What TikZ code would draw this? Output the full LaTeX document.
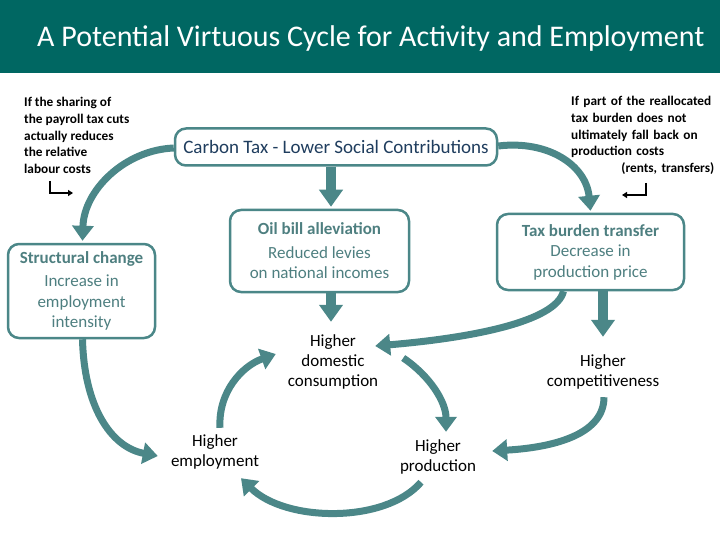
\documentclass[tikz,border=0pt]{standalone}
\usepackage{fontspec}
\setmainfont{Carlito}
\usetikzlibrary{arrows.meta}
\definecolor{hdr}{HTML}{006762}
\definecolor{tl}{HTML}{4B8788}
\definecolor{boxtxt}{HTML}{4E7F80}
\definecolor{navy}{HTML}{1F3D5E}
\begin{document}
\begin{tikzpicture}[x=1pt,y=-1pt,
  box/.style={draw=tl, line width=2.5pt, rounded corners=11pt, fill=white, align=center,
    text=boxtxt, font=\fontsize{17}{20.5}\selectfont, inner sep=0pt},
  lbl/.style={align=center, text=black, font=\fontsize{17}{20.3}\selectfont, inner sep=0pt},
  note/.style={align=left, text=black, font=\bfseries\fontsize{13.3}{16.8}\selectfont, inner sep=0pt},
  bigarrow/.style={draw=tl, line width=7pt, -{Triangle[width=21pt,length=15pt]}},
  straightarrow/.style={draw=tl, line width=10pt, -{Triangle[width=23pt,length=17pt]}},
  bentmark/.style={draw=black, line width=1.8pt, -{Triangle[width=6pt,length=5pt]}}]
\useasboundingbox (0,0) rectangle (720,540);
\fill[hdr] (0,0) rectangle (720,73);
\node[text=white, font=\fontsize{30}{34}\selectfont, anchor=west, inner sep=0pt] (title) at (37,39)
  {A Potential Virtuous Cycle for Activity and Employment};

% notes
\node[note, anchor=north west] (noteL) at (24,97)
  {If the sharing of\\the payroll tax cuts\\actually reduces\\the relative\\labour costs};
\node[note, anchor=north west, text width=143pt] (noteR) at (571,96)
  {\hyphenpenalty=10000 \exhyphenpenalty=10000 If part of the reallocated\\tax burden does not\\ultimately fall back on\\production costs\\\mbox{}\hfill(rents, transfers)};
\coordinate (bl1) at (50,181);
\coordinate (bl2) at (50,193);
\coordinate (bl3) at (73,193);
\draw[bentmark] (bl1) -- (bl2) -- (bl3);
\coordinate (br1) at (646,183);
\coordinate (br2) at (646,195);
\coordinate (br3) at (622,195);
\draw[bentmark] (br1) -- (br2) -- (br3);

% boxes
\node[box, minimum width=322pt, minimum height=37pt, text=navy, font=\fontsize{19}{22}\selectfont] (carbon) at (336,147)
  {Carbon Tax - Lower Social Contributions};
\node[box, minimum width=179pt, minimum height=82pt] (oil) at (319.5,251)
  {\textbf{Oil bill alleviation}\\[3pt]Reduced levies\\on national incomes};
\node[box, minimum width=187pt, minimum height=76pt] (tax) at (590.5,252)
  {\textbf{Tax burden transfer}\\Decrease in\\production price};
\node[box, minimum width=147pt, minimum height=94pt] (struct) at (81.5,291)
  {\textbf{Structural change}\\[3pt]Increase in\\employment\\intensity};

% labels (fixed sizes so that anchors are predictable)
\node[lbl, minimum width=100pt, minimum height=64pt] (cons) at (333,362) {Higher\\domestic\\consumption};
\node[lbl, minimum width=120pt, minimum height=44pt] (comp) at (603,372) {Higher\\competitiveness};
\node[lbl, minimum width=96pt, minimum height=44pt] (emp) at (215,452) {Higher\\employment};
\node[lbl, minimum width=84pt, minimum height=44pt] (prod) at (438,457) {Higher\\production};

% arrows
\draw[straightarrow] ([xshift=-5pt]carbon.south) -- ([xshift=11.5pt,yshift=2pt]oil.north);
\draw[straightarrow] ([xshift=11.5pt]oil.south) -- ([xshift=-2pt,yshift=8pt]cons.north);
\draw[straightarrow] ([xshift=12.5pt]tax.south) -- ([yshift=13pt]comp.north);
\draw[bigarrow] ([yshift=1pt]carbon.east) .. controls (548,140) and (586,165) .. ([xshift=0pt,yshift=2pt]tax.north);
\draw[bigarrow] ([yshift=-1pt]carbon.west) .. controls (125,150) and (84,190) .. ([xshift=1pt,yshift=2pt]struct.north);
\draw[bigarrow] ([xshift=1pt]struct.south) .. controls (84,405) and (110,447) .. ([xshift=-9pt,yshift=-4pt]emp.west);
\draw[bigarrow] ([xshift=-27pt]tax.south) .. controls (556,322) and (470,338) .. ([xshift=-8pt,yshift=16pt]cons.east);
\draw[bigarrow] ([xshift=1pt,yshift=-3pt]comp.south) .. controls (604,432) and (560,447) .. ([xshift=12pt,yshift=6pt]prod.east);
\draw[bigarrow] ([xshift=5pt,yshift=2pt]emp.north) .. controls (218,392) and (242,366) .. ([xshift=-7pt,yshift=8pt]cons.west);
\draw[bigarrow] ([xshift=20pt,yshift=4pt]cons.east) .. controls (430,376) and (446,402) .. ([xshift=8pt,yshift=3pt]prod.north);
\draw[bigarrow] ([xshift=-17pt,yshift=-3pt]prod.south) .. controls (385,524) and (285,522) .. ([xshift=26pt,yshift=-4pt]emp.south);
\end{tikzpicture}
\end{document}
